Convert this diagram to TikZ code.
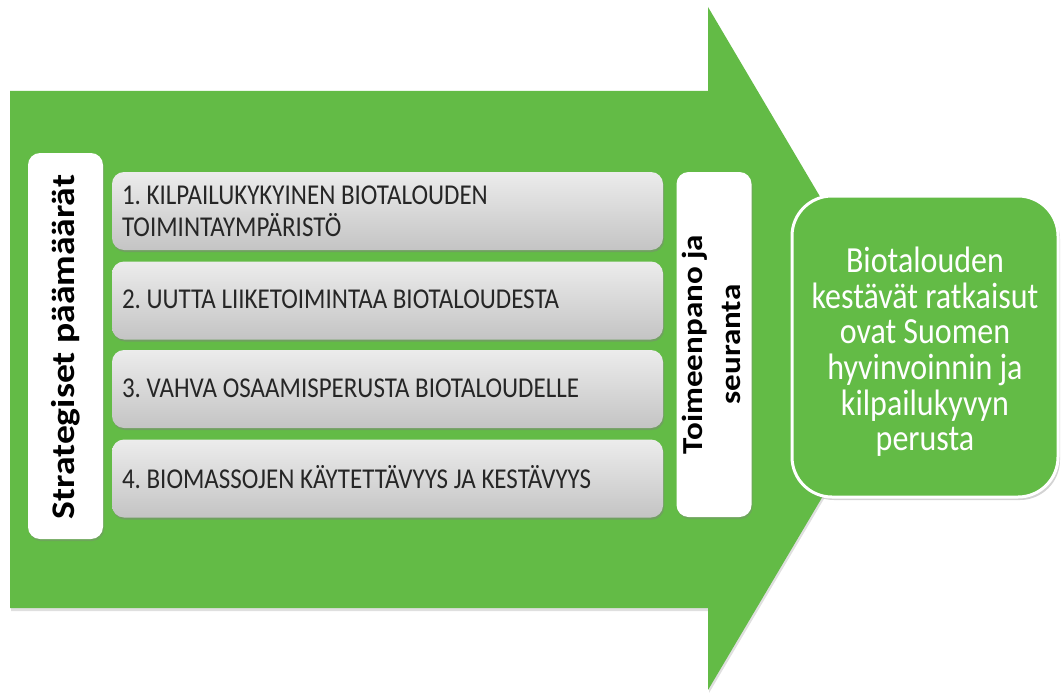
\documentclass[tikz,border=0pt]{standalone}
\usepackage{fontspec}
\setmainfont{Carlito}
\usetikzlibrary{shadows}
\frenchspacing
\definecolor{arrowgreen}{RGB}{99,187,70}
\definecolor{boxtop}{RGB}{236,236,236}
\definecolor{boxbot}{RGB}{196,196,196}
\newcommand{\vstretch}[1]{\scalebox{1}[1.15]{#1}}
\newcommand{\hstretch}[1]{\scalebox{1.14}[1]{#1}}
\tikzset{
  itembox/.style={rounded corners=12pt, top color=boxtop, bottom color=boxbot, draw=none,
    minimum width=551pt, minimum height=78pt, inner sep=0pt,
    drop shadow={shadow xshift=1pt, shadow yshift=-2pt, opacity=0.45}},
  itemtext/.style={anchor=west, inner sep=0pt, text=black!85, font=\fontsize{25}{24.3}\selectfont},
  sidebox/.style={rounded corners=12pt, fill=white, draw=none, inner sep=0pt,
    drop shadow={shadow xshift=1pt, shadow yshift=-2pt, opacity=0.35}},
  sidelabel/.style={rotate=90, text=black, inner sep=0pt},
  resultbox/.style={rounded corners=40pt, fill=arrowgreen, draw=white, line width=3pt,
    minimum width=266pt, minimum height=301pt, inner sep=0pt,
    drop shadow={shadow xshift=2pt, shadow yshift=-3pt, opacity=0.35}},
}
\begin{document}
\begin{tikzpicture}[x=1pt,y=-1pt]
\useasboundingbox (0,0) rectangle (1061,693);
% big arrow
\fill[arrowgreen, drop shadow={shadow xshift=1pt, shadow yshift=-3pt, opacity=0.25}]
  (10,91) -- (708,91) -- (708,7) -- (910,349) -- (708,690) -- (708,608) -- (10,608) -- cycle;
% left label box
\node[sidebox, minimum width=75pt, minimum height=386pt] (strat) at (65.5,346) {};
\node[sidelabel, font=\bfseries\fontsize{33}{36}\selectfont] (stratlbl) at ([yshift=-1pt]strat.center)
  {\hstretch{Strategiset päämäärät}};
% item boxes
\node[itembox] (b1) at (387.5,211) {};
\node[itembox] (b2) at (387.5,300.5) {};
\node[itembox] (b3) at (387.5,389) {};
\node[itembox] (b4) at (387.5,478.5) {};
\node[itemtext] (t1) at ([xshift=10pt,yshift=-4pt]b1.west) {\vstretch{\begin{tabular}{@{}l@{}}1. KILPAILUKYKYINEN BIOTALOUDEN\\TOIMINTAYMPÄRISTÖ\end{tabular}}};
\node[itemtext] (t2) at ([xshift=10pt,yshift=1pt]b2.west) {\vstretch{2. UUTTA LIIKETOIMINTAA BIOTALOUDESTA}};
\node[itemtext] (t3) at ([xshift=10pt,yshift=1pt]b3.west) {\vstretch{3. VAHVA OSAAMISPERUSTA BIOTALOUDELLE}};
\node[itemtext] (t4) at ([xshift=10pt,yshift=1pt]b4.west) {\vstretch{4. BIOMASSOJEN KÄYTETTÄVYYS JA KESTÄVYYS}};
% right label box
\node[sidebox, minimum width=75pt, minimum height=345pt] (toim) at (714,344.5) {};
\node[sidelabel, font=\bfseries\fontsize{29}{38}\selectfont] (toimlbl) at (toim.center)
  {\hstretch{\begin{tabular}{@{}c@{}}Toimeenpano ja\\seuranta\end{tabular}}};
% result box
\node[resultbox] (res) at (925,346.5) {};
\node[text=white, inner sep=0pt, font=\fontsize{32}{30.4}\selectfont] (restext) at ([yshift=-7pt]res.center)
  {\vstretch{\begin{tabular}{@{}c@{}}Biotalouden\\kestävät ratkaisut\\ovat Suomen\\hyvinvoinnin ja\\kilpailukyvyn\\perusta\end{tabular}}};
\end{tikzpicture}
\end{document}
